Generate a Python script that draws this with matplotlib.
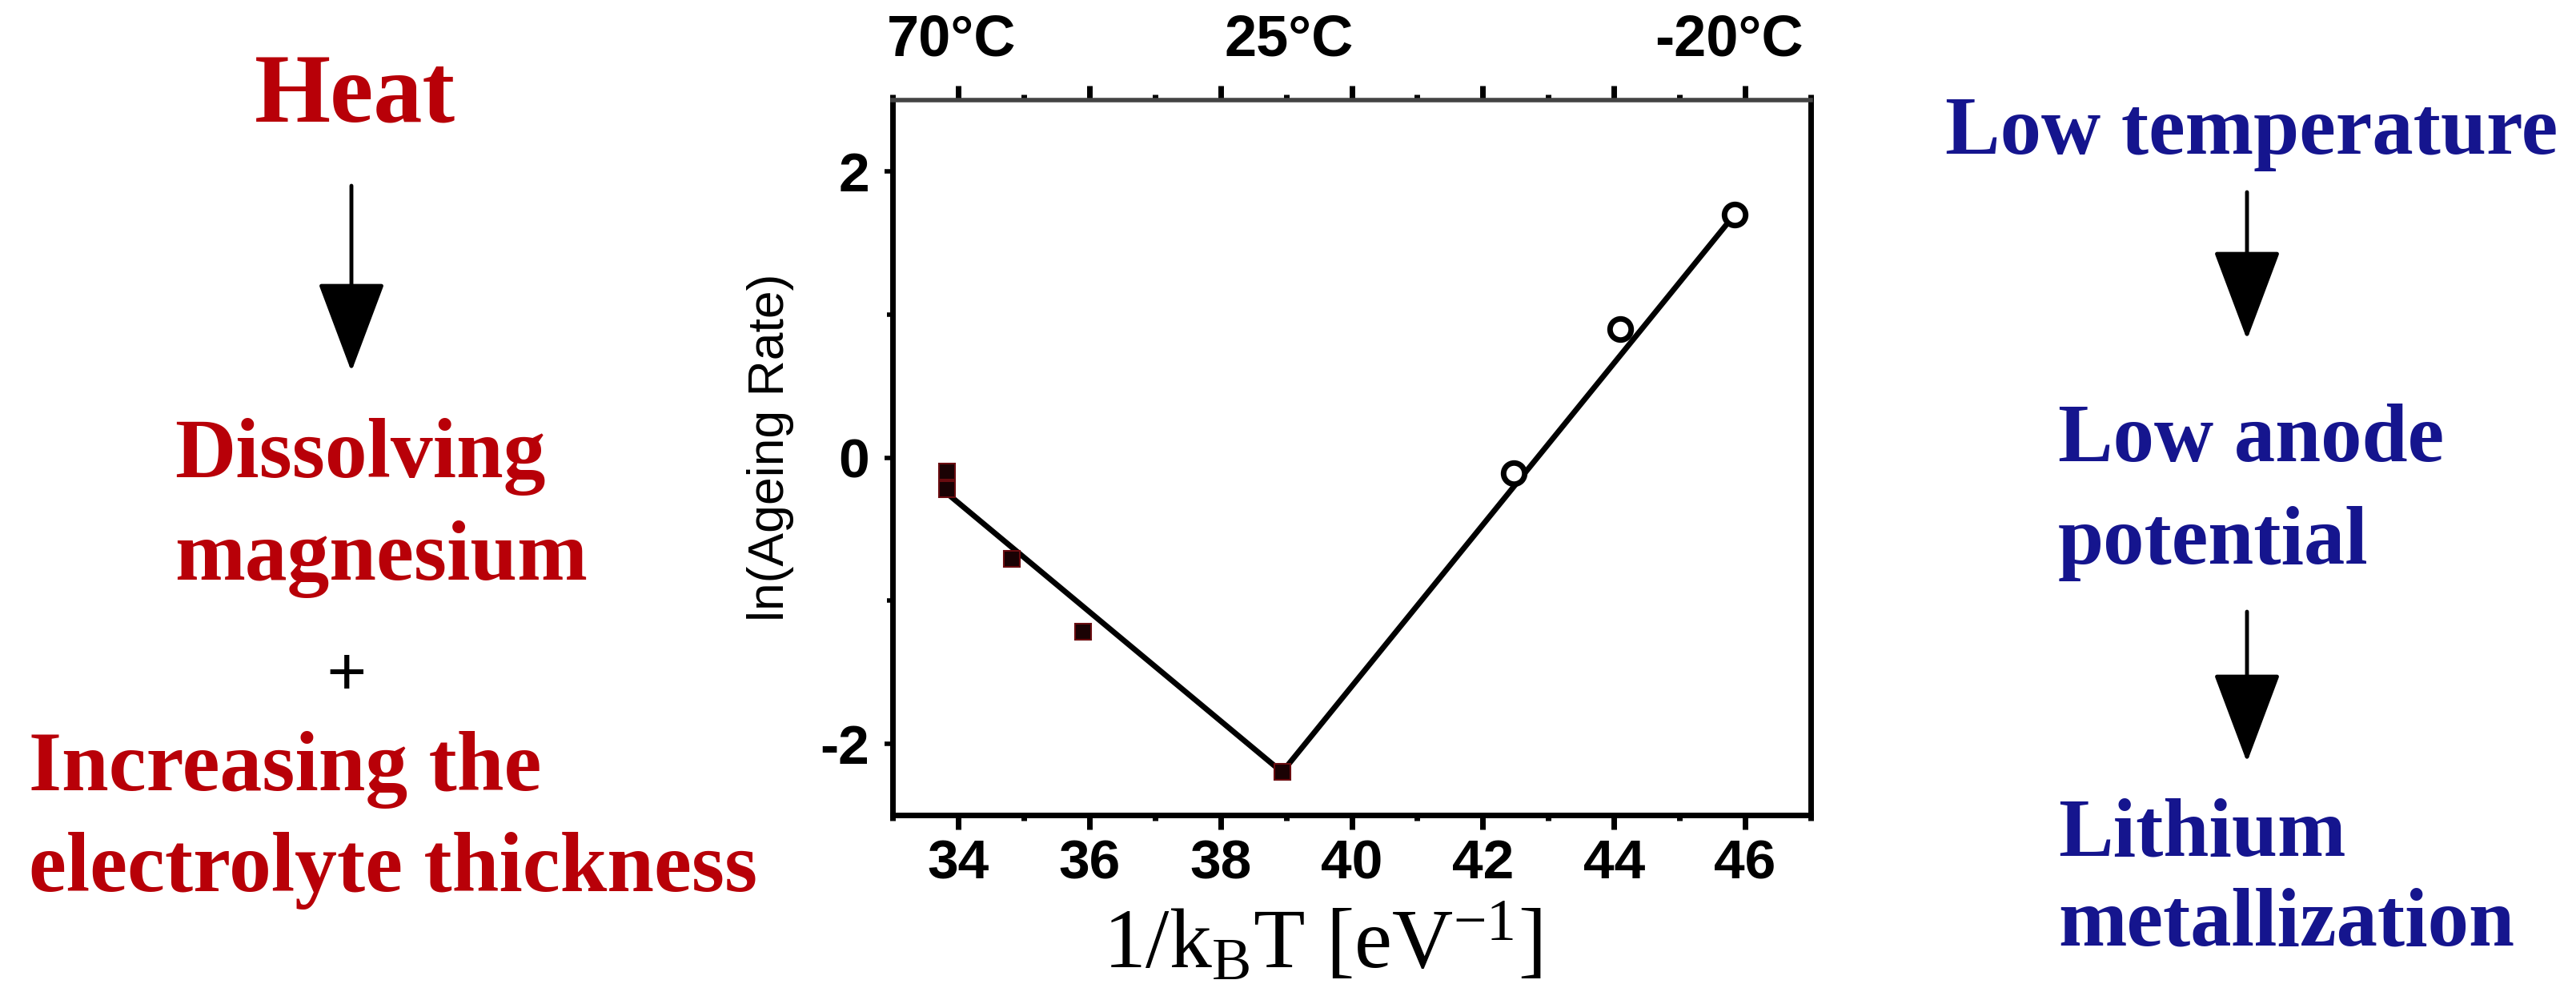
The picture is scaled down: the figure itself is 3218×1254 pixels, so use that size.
import matplotlib
matplotlib.use("Agg")
import matplotlib.pyplot as plt
from matplotlib.ticker import MultipleLocator, FixedLocator

# data
sq_x = [33.83, 33.83, 34.82, 35.91, 38.94]
sq_y = [-0.10, -0.22, -0.71, -1.22, -2.20]
circ_x = [42.47, 44.10, 45.84]
circ_y = [-0.11, 0.90, 1.70]
fit_hot_x = [33.83, 38.94]
fit_hot_y = [-0.25, -2.20]
fit_cold_x = [38.94, 45.84]
fit_cold_y = [-2.20, 1.70]
x_ticks = [34, 36, 38, 40, 42, 44, 46]
y_ticks = [-2, 0, 2]
temp_labels = ["70°C", "25°C", "-20°C"]
temp_pos = [33.9, 39.05, 45.75]

left_lines = ["Dissolving", "magnesium"]
left_lines2 = ["Increasing the", "electrolyte thickness"]
right_lines = ["Low anode", "potential"]
right_lines2 = ["Lithium", "metallization"]

W, H = 3218, 1254
plt.rcParams["axes.unicode_minus"] = False
plt.rcParams["mathtext.fontset"] = "custom"
plt.rcParams["mathtext.rm"] = "Liberation Serif"
plt.rcParams["mathtext.it"] = "Liberation Serif:italic"

narrow = ["Liberation Sans Narrow", "Liberation Sans"]
serif = ["Liberation Serif", "DejaVu Serif"]
red = "#b80008"
blue = "#15158e"


def fx(px):
    return px / W


def fy(py):
    return 1 - py / H


fig = plt.figure(figsize=(W / 100, H / 100), dpi=100)
ax = fig.add_axes([fx(1115), fy(1018), fx(2262) - fx(1115), fy(125) - fy(1018)])

ax.plot(fit_hot_x, fit_hot_y, color="black", lw=5, solid_capstyle="butt", zorder=2)
ax.plot(fit_cold_x, fit_cold_y, color="black", lw=5, solid_capstyle="butt", zorder=2)
ax.plot(sq_x, sq_y, "s", ms=15, mfc="#1a0204", mec="#6a0c10", mew=1.5, zorder=3)
ax.plot(circ_x, circ_y, "o", ms=19, mfc="white", mec="black", mew=5, zorder=3)

ax.set_xlim(33, 47)
ax.set_ylim(-2.5, 2.5)
ax.xaxis.set_major_locator(FixedLocator(x_ticks))
ax.xaxis.set_minor_locator(MultipleLocator(1))
ax.yaxis.set_major_locator(FixedLocator(y_ticks))
ax.yaxis.set_minor_locator(MultipleLocator(1))

for s in ["left", "right", "bottom"]:
    ax.spines[s].set_linewidth(5)
ax.spines["top"].set_linewidth(4)
ax.spines["top"].set_color("#444444")

ax.tick_params(axis="x", which="both", direction="out", top=True, bottom=True,
               labeltop=False, width=5)
ax.tick_params(axis="x", which="major", length=13, pad=8)
ax.tick_params(axis="x", which="minor", length=5)
ax.tick_params(axis="y", which="both", direction="out", left=True, right=False, width=4)
ax.tick_params(axis="y", which="major", length=7, pad=14)
ax.tick_params(axis="y", which="minor", length=5)

for lab in ax.get_xticklabels() + ax.get_yticklabels():
    lab.set_family(narrow)
    lab.set_fontsize(50)
    lab.set_fontweight("bold")

for t, p in zip(temp_labels, temp_pos):
    ax.text(p, 1.083, t, transform=ax.get_xaxis_transform(), ha="center", va="center",
            family=narrow, fontsize=52, fontweight="bold")

fig.text(fx(962), fy(559), "ln(Ageing Rate)", rotation=90, ha="center", va="center",
         family=["Liberation Sans"], fontsize=45)
fig.text(fx(1652), fy(1208), r"1/k$_{\mathrm{B}}$T [eV$^{-1}$]", ha="center", va="baseline",
         family=serif, fontsize=76)

# left column
fig.text(fx(443), fy(152), "Heat", ha="center", va="baseline", family=serif,
         fontsize=88, fontweight="bold", color=red)
fig.text(fx(218), fy(596), left_lines[0], ha="left", va="baseline", family=serif,
         fontsize=76, fontweight="bold", color=red)
fig.text(fx(218), fy(724), left_lines[1], ha="left", va="baseline", family=serif,
         fontsize=76, fontweight="bold", color=red)
fig.text(fx(433), fy(848), "+", ha="center", va="center", family=serif,
         fontsize=64, fontweight="bold", color="black")
fig.text(fx(36), fy(987), left_lines2[0], ha="left", va="baseline", family=serif,
         fontsize=76, fontweight="bold", color=red)
fig.text(fx(36), fy(1113), left_lines2[1], ha="left", va="baseline", family=serif,
         fontsize=76, fontweight="bold", color=red)

# right column
fig.text(fx(2430), fy(192), "Low temperature", ha="left", va="baseline", family=serif,
         fontsize=74, fontweight="bold", color=blue)
fig.text(fx(2571), fy(576), right_lines[0], ha="left", va="baseline", family=serif,
         fontsize=74, fontweight="bold", color=blue)
fig.text(fx(2571), fy(704), right_lines[1], ha="left", va="baseline", family=serif,
         fontsize=74, fontweight="bold", color=blue)
fig.text(fx(2571), fy(1068), right_lines2[0], ha="left", va="baseline", family=serif,
         fontsize=74, fontweight="bold", color=blue)
fig.text(fx(2571), fy(1180), right_lines2[1], ha="left", va="baseline", family=serif,
         fontsize=74, fontweight="bold", color=blue)

# arrows
arrows = [(439, 232, 464), (2807, 240, 424), (2807, 764, 952)]
for x, y0, y1 in arrows:
    fig.add_artist(matplotlib.patches.FancyArrowPatch(
        (fx(x), fy(y0)), (fx(x), fy(y1)), transform=fig.transFigure,
        arrowstyle="-|>,head_length=2.0,head_width=0.75", mutation_scale=36,
        lw=3.5, color="black", shrinkA=0, shrinkB=0))

fig.savefig("out.png", dpi=100, facecolor="white")
